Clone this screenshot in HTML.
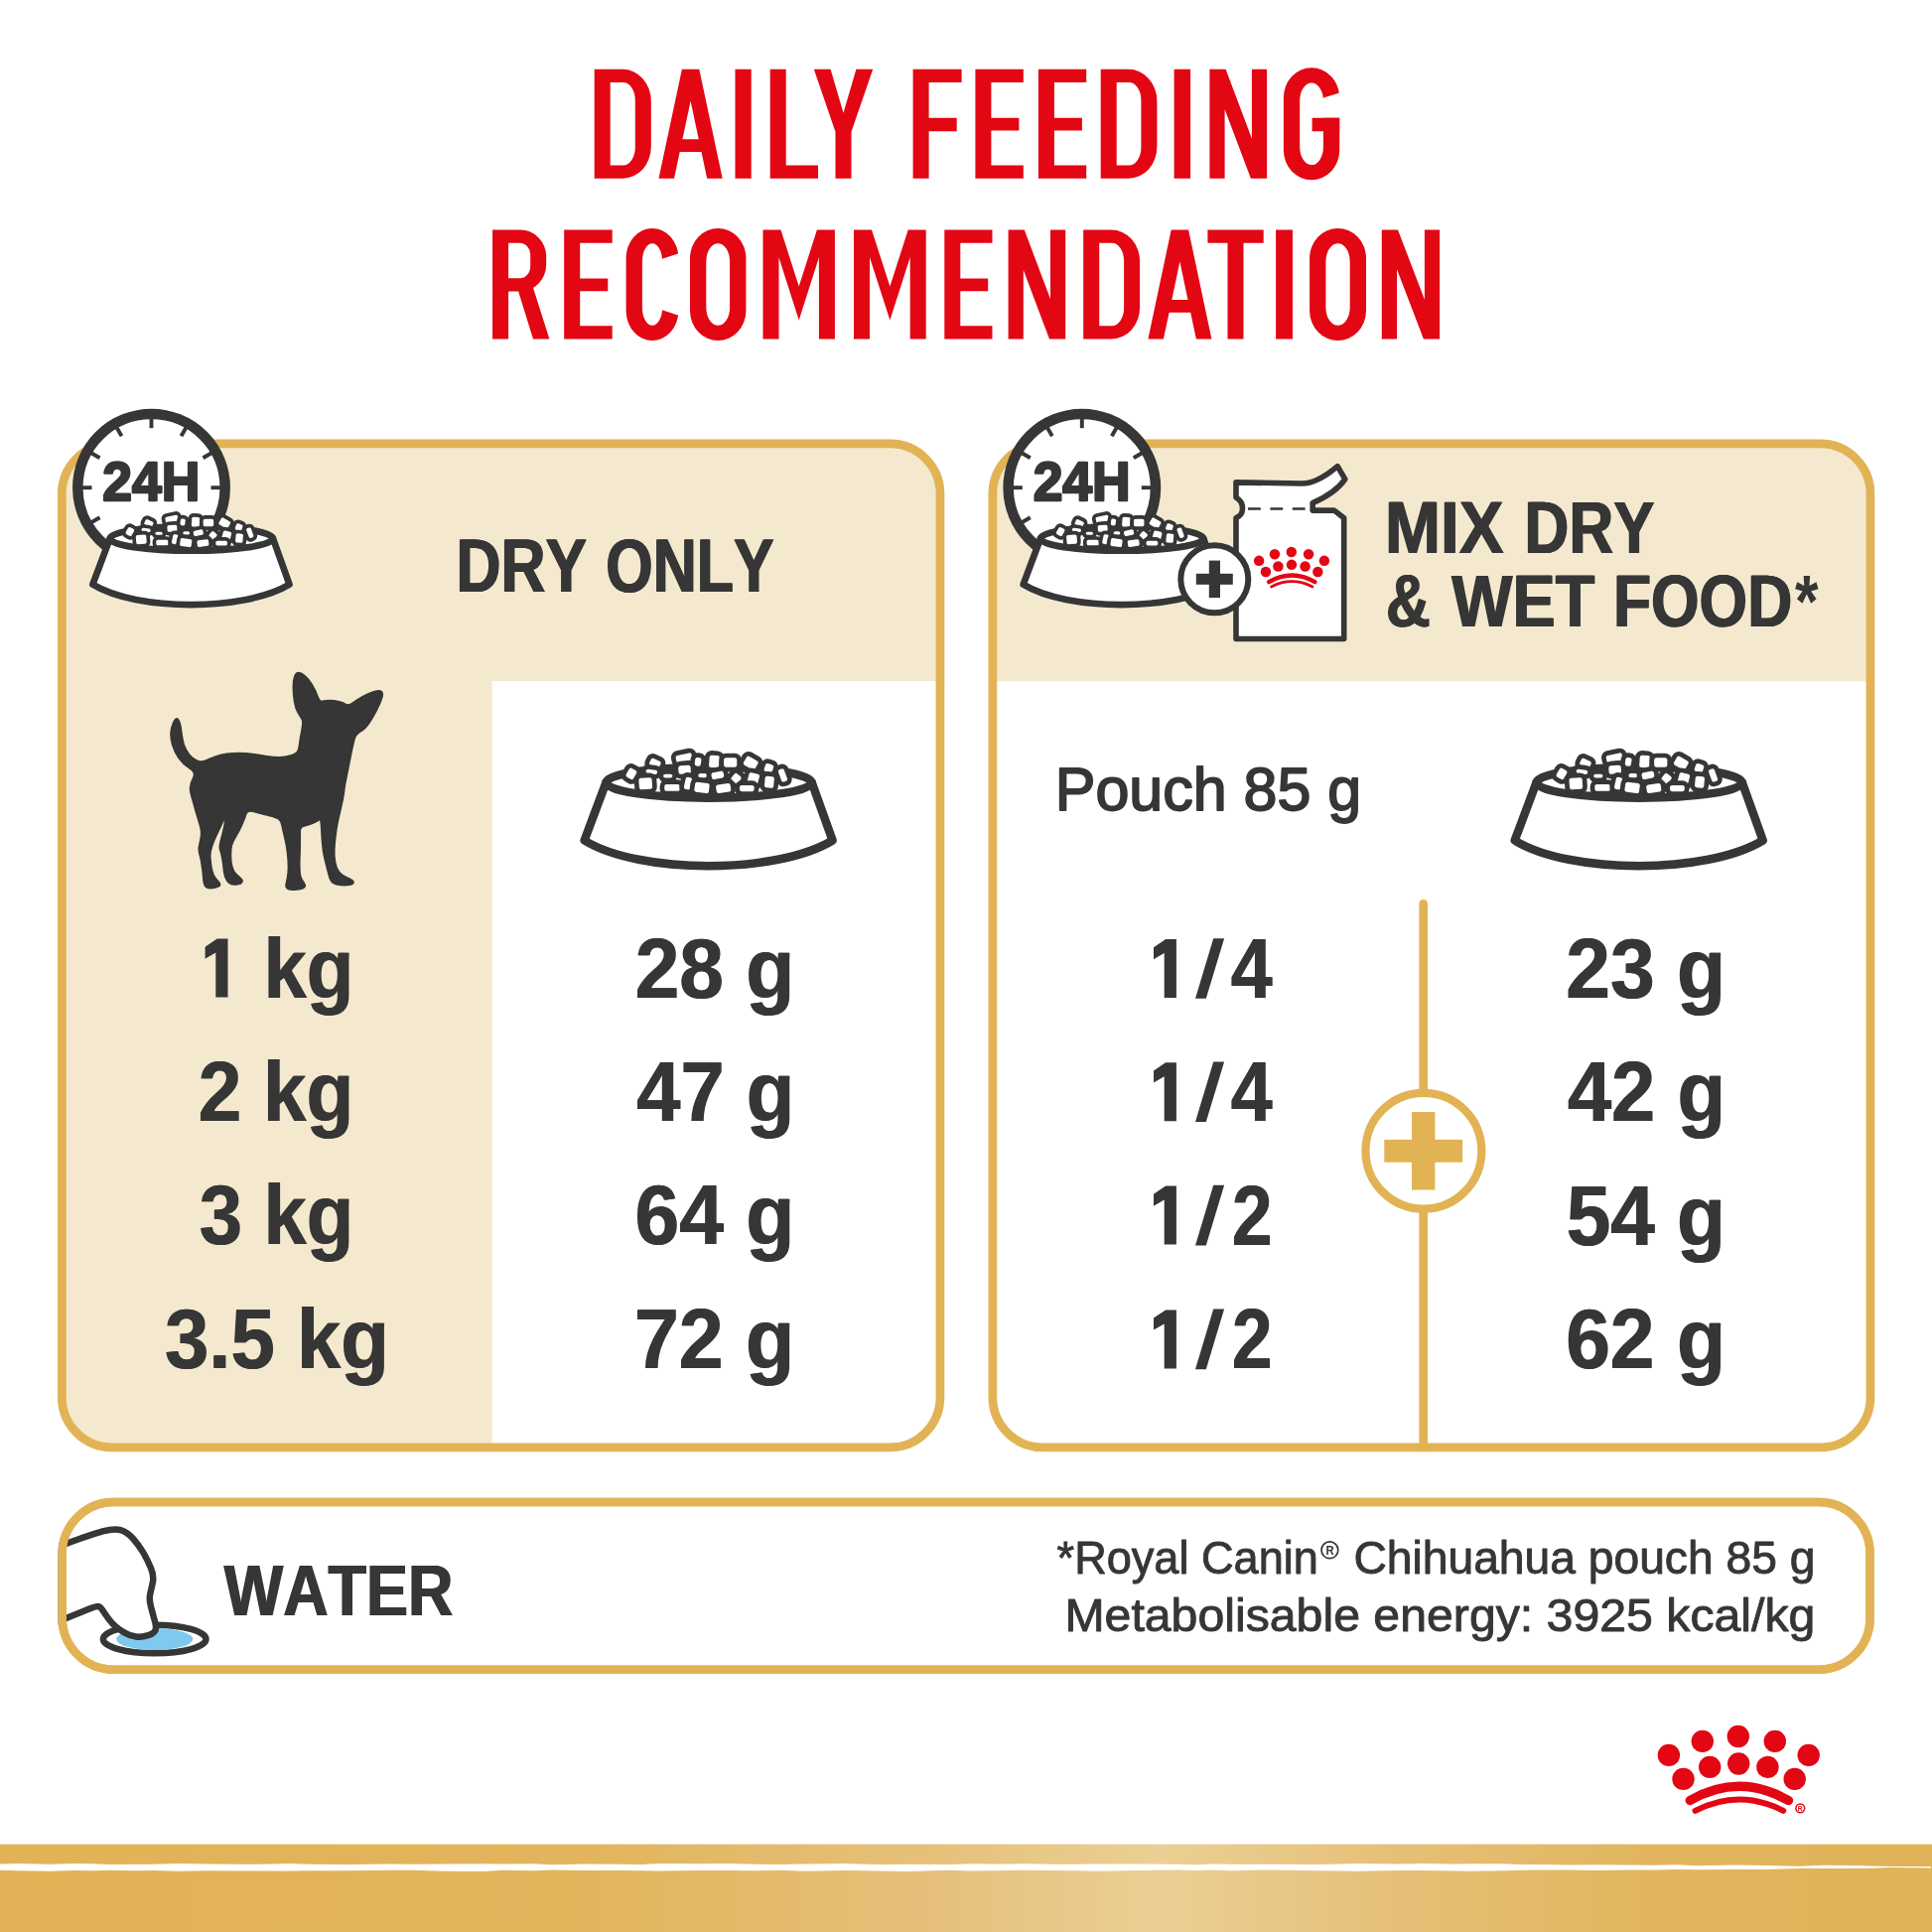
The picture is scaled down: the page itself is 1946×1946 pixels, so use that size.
<!DOCTYPE html>
<html><head><meta charset="utf-8"><title>Daily feeding recommendation</title>
<style>
html,body{margin:0;padding:0;background:#fff}
body{width:1946px;height:1946px;overflow:hidden}
svg{display:block;will-change:transform}
text{font-family:"Liberation Sans",sans-serif;font-kerning:none;font-variant-ligatures:none;white-space:pre}
</style></head><body>
<svg width="1946" height="1946" viewBox="0 0 1946 1946">
<defs><g id="bowl"><path d="M26.1 33.4 L4.3 91.7 C60 126 198 126 254.3 91.7 L233.4 33.4 Z" fill="#fff" stroke="#353635" stroke-width="8.5" stroke-linejoin="round"/><ellipse cx="129.7" cy="33.4" rx="103.6" ry="15.5" fill="#fff" stroke="#353635" stroke-width="8.5"/><g fill="#fff" stroke="#353635" stroke-width="4.7" stroke-linejoin="round"><rect x="-7.8" y="-6.2" width="15.5" height="12.4" rx="4.5" transform="translate(75.6 14.0) rotate(25)"/><rect x="-10.5" y="-6.2" width="21.0" height="12.4" rx="4.5" transform="translate(104.7 8.6) rotate(-12)"/><rect x="-5.4" y="-6.6" width="10.9" height="13.2" rx="4.5" transform="translate(118.7 12.5) rotate(8)"/><rect x="-7.4" y="-8.5" width="14.8" height="17.1" rx="4.5" transform="translate(135.1 12.2) rotate(4)"/><rect x="-8.9" y="-7.0" width="17.9" height="14.0" rx="4.5" transform="translate(151.3 13.2) rotate(0)"/><rect x="-8.9" y="-7.4" width="17.9" height="14.8" rx="4.5" transform="translate(171.9 13.7) rotate(30)"/><rect x="-6.6" y="-6.6" width="13.2" height="13.2" rx="4.5" transform="translate(190.1 19.0) rotate(20)"/><rect x="-5.4" y="-8.9" width="10.9" height="17.9" rx="4.5" transform="translate(204.1 26.1) rotate(-20)"/><rect x="-6.6" y="-7.4" width="13.2" height="14.8" rx="4.5" transform="translate(51.6 24.6) rotate(30)"/><rect x="-8.5" y="-6.6" width="17.1" height="13.2" rx="4.5" transform="translate(105.2 20.5) rotate(-4)"/><rect x="-8.2" y="-4.5" width="16.3" height="9.0" rx="4.5" transform="translate(72.1 22.6) rotate(8)"/><rect x="-7.0" y="-4.3" width="14.0" height="8.5" rx="4.5" transform="translate(88.4 26.8) rotate(0)"/><rect x="-6.6" y="-4.5" width="13.2" height="9.0" rx="4.5" transform="translate(123.3 26.4) rotate(0)"/><rect x="-8.5" y="-5.8" width="17.1" height="11.6" rx="4.5" transform="translate(138.5 26.1) rotate(-12)"/><rect x="-6.6" y="-6.6" width="13.2" height="13.2" rx="4.5" transform="translate(157.2 29.2) rotate(40)"/><rect x="-7.8" y="-7.8" width="15.5" height="15.5" rx="4.5" transform="translate(174.6 29.5) rotate(15)"/><rect x="-7.0" y="-8.2" width="14.0" height="16.3" rx="4.5" transform="translate(190.6 33.0) rotate(5)"/><rect x="-8.9" y="-8.2" width="17.9" height="16.3" rx="4.5" transform="translate(65.9 34.5) rotate(-4)"/><rect x="-10.1" y="-5.8" width="20.2" height="11.6" rx="4.5" transform="translate(92.7 38.6) rotate(0)"/><rect x="-5.6" y="-8.5" width="11.2" height="17.1" rx="4.5" transform="translate(108.7 34.2) rotate(12)"/><rect x="-9.7" y="-7.4" width="19.4" height="14.8" rx="4.5" transform="translate(122.7 38.6) rotate(8)"/><rect x="-9.7" y="-6.6" width="19.4" height="13.2" rx="4.5" transform="translate(144.4 39.2) rotate(-8)"/><rect x="-9.7" y="-5.4" width="19.4" height="10.9" rx="4.5" transform="translate(168.0 39.2) rotate(0)"/></g></g>
<g id="crown" fill="#e30613"><circle cx="-70.4" cy="18.9" r="11.2"/><circle cx="-36.5" cy="4.9" r="11.2"/><circle cx="-0.5" cy="0.0" r="11.2"/><circle cx="36.5" cy="4.9" r="11.2"/><circle cx="70.4" cy="18.9" r="11.2"/><circle cx="-55.8" cy="42.9" r="11.2"/><circle cx="-29.1" cy="30.9" r="11.2"/><circle cx="-0.1" cy="27.5" r="11.2"/><circle cx="29.1" cy="30.9" r="11.2"/><circle cx="56.4" cy="42.9" r="11.2"/><path d="M-49.0 64.5 Q0.5 36.1 50.1 64.5" fill="none" stroke="#e30613" stroke-width="9.5" stroke-linecap="round"/><path d="M-43.8 74.9 Q0.5 52.1 44.9 74.9" fill="none" stroke="#e30613" stroke-width="6" stroke-linecap="round"/></g>
<g id="clockbowl"><circle cx="94.5" cy="48.599999999999966" r="74.2" fill="#fff" stroke="#353635" stroke-width="10.5"/><line x1="94.5" y1="-21.4" x2="94.5" y2="-11.4" stroke="#353635" stroke-width="3.9"/><line x1="129.5" y1="-12.0" x2="124.5" y2="-3.4" stroke="#353635" stroke-width="3.9"/><line x1="155.1" y1="13.6" x2="146.5" y2="18.6" stroke="#353635" stroke-width="3.9"/><line x1="164.5" y1="48.6" x2="154.5" y2="48.6" stroke="#353635" stroke-width="3.9"/><line x1="33.9" y1="83.6" x2="42.5" y2="78.6" stroke="#353635" stroke-width="3.9"/><line x1="24.5" y1="48.6" x2="34.5" y2="48.6" stroke="#353635" stroke-width="3.9"/><line x1="33.9" y1="13.6" x2="42.5" y2="18.6" stroke="#353635" stroke-width="3.9"/><line x1="59.5" y1="-12.0" x2="64.5" y2="-3.4" stroke="#353635" stroke-width="3.9"/><text transform="translate(45.33 61.85) scale(0.9505 1)" font-size="56.25" font-weight="bold" fill="#353635" stroke="#353635" stroke-width="2.50" stroke-linejoin="round">24H</text><use href="#bowl" transform="translate(32 73.39999999999998) scale(0.7924)"/></g>
<linearGradient id="band" x1="0" x2="1" y1="0" y2="0">
<stop offset="0" stop-color="#e2b256"/><stop offset="0.3" stop-color="#e2b55c"/><stop offset="0.48" stop-color="#e6c07a"/>
<stop offset="0.6" stop-color="#ebcf94"/><stop offset="0.72" stop-color="#e6c078"/><stop offset="0.85" stop-color="#e1b65e"/><stop offset="1" stop-color="#dfb357"/></linearGradient>
<clipPath id="clipL"><rect x="58" y="442.6" width="893.3" height="1019.7" rx="55"/></clipPath>
<clipPath id="clipR"><rect x="995.5" y="442.6" width="892.8" height="1019.7" rx="55"/></clipPath>
<clipPath id="clipW"><rect x="58.5" y="1508.8" width="1829.3" height="177.2" rx="56"/></clipPath></defs>
<g id="title">
<g transform="translate(598.7 69.8)"><path d="M0.0 0.0H28.5A28.6 32.0 0 0 1 57.1 32.0V78.0A28.6 32.0 0 0 1 28.5 110.0H0.0zM16.0 13.3V96.7H28.9A12.2 18.0 0 0 0 41.1 78.7V31.3A12.2 18.0 0 0 0 28.9 13.3z" fill="#e30613"/></g>
<g transform="translate(663.5 69.8)"><path d="M23.4 0.0L40.8 0.0L64.2 110.0L0.0 110.0zM32.1 32.0L23.9 70.4L40.3 70.4zM21.2 83.2L15.5 110.0L48.7 110.0L43.0 83.2z" fill="#e30613" fill-rule="evenodd"/></g>
<g transform="translate(740.5 69.8)"><path d="M0.0 0.0h16.2v110.0h-16.2z" fill="#e30613"/></g>
<g transform="translate(775.7 69.8)"><path d="M0.0 0.0h16.0v110.0h-16.0zM0.0 96.7h48.3v13.3h-48.3z" fill="#e30613"/></g>
<g transform="translate(819.8 69.8)"><path d="M0.0 0.0L16.8 0.0L29.7 44.0L42.6 0.0L59.4 0.0L37.7 63.0L37.7 110.0L21.7 110.0L21.7 63.0z" fill="#e30613"/></g>
<g transform="translate(919.6 69.8)"><path d="M0.0 0.0h16.0v110.0h-16.0zM0.0 0.0h49.0v13.3h-49.0zM0.0 48.9h44.1v13.5h-44.1z" fill="#e30613"/></g>
<g transform="translate(982.4 69.8)"><path d="M0.0 0.0h16.0v110.0h-16.0zM0.0 0.0h48.4v13.3h-48.4zM0.0 48.9h44.0v12.9h-44.0zM0.0 96.7h48.4v13.3h-48.4z" fill="#e30613"/></g>
<g transform="translate(1045.9 69.8)"><path d="M0.0 0.0h16.0v110.0h-16.0zM0.0 0.0h48.3v13.3h-48.3zM0.0 48.9h44.0v12.9h-44.0zM0.0 96.7h48.3v13.3h-48.3z" fill="#e30613"/></g>
<g transform="translate(1108.7 69.8)"><path d="M0.0 0.0H28.1A28.6 32.0 0 0 1 56.7 32.0V78.0A28.6 32.0 0 0 1 28.1 110.0H0.0zM16.0 13.3V96.7H28.5A12.2 18.0 0 0 0 40.7 78.7V31.3A12.2 18.0 0 0 0 28.5 13.3z" fill="#e30613"/></g>
<g transform="translate(1182.6 69.8)"><path d="M0.0 0.0h16.5v110.0h-16.5z" fill="#e30613"/></g>
<g transform="translate(1218.4 69.8)"><path d="M0.0 0.0h15.2v110.0h-15.2zM42.5 0.0h15.2v110.0h-15.2zM0.0 0.0L16.2 0.0L57.7 110.0L41.5 110.0z" fill="#e30613"/></g>
<g transform="translate(1292.9 69.8)"><path d="M28.1 -1.5H28.1A28.1 30.0 0 0 1 56.3 28.5V81.5A28.1 30.0 0 0 1 28.1 111.5H28.1A28.1 30.0 0 0 1 0.0 81.5V28.5A28.1 30.0 0 0 1 28.1 -1.5zM28.1 13.7A11.8 18.0 0 0 0 16.3 31.7V78.3A11.8 18.0 0 0 0 28.1 96.3H28.1A11.8 18.0 0 0 0 40.0 78.3V31.7A11.8 18.0 0 0 0 28.1 13.7z" fill="#e30613"/><path d="M28.1 32.5L57.3 23.5L57.3 48.9L28.1 48.9z" fill="#fff"/><path d="M28.7 48.9h27.6v13.6h-27.6z" fill="#e30613"/></g>
<g transform="translate(496.1 231.5)"><path d="M0.0 0.0h16.0v110.0h-16.0zM0.0 0.0H28.1A26.0 27.0 0 0 1 54.1 27.0V35.0A26.0 27.0 0 0 1 28.1 62.0H0.0zM16.0 13.3V48.7H27.6A10.5 12.0 0 0 0 38.1 36.7V25.3A10.5 12.0 0 0 0 27.6 13.3zM24.8 58.0L40.8 58.0L57.3 110.0L40.9 110.0z" fill="#e30613"/></g>
<g transform="translate(568.2 231.5)"><path d="M0.0 0.0h16.0v110.0h-16.0zM0.0 0.0h48.5v13.3h-48.5zM0.0 48.9h44.1v12.9h-44.1zM0.0 96.7h48.5v13.3h-48.5z" fill="#e30613"/></g>
<g transform="translate(630.6 231.5)"><path d="M26.4 -1.5H26.4A26.4 30.0 0 0 1 52.8 28.5V81.5A26.4 30.0 0 0 1 26.4 111.5H26.4A26.4 30.0 0 0 1 0.0 81.5V28.5A26.4 30.0 0 0 1 26.4 -1.5zM26.4 13.7A10.1 18.0 0 0 0 16.3 31.7V78.3A10.1 18.0 0 0 0 26.4 96.3H26.4A10.1 18.0 0 0 0 36.5 78.3V31.7A10.1 18.0 0 0 0 26.4 13.7z" fill="#e30613"/><path d="M26.4 32.5L53.8 23.5L53.8 86.5L26.4 77.5z" fill="#fff"/></g>
<g transform="translate(695.0 231.5)"><path d="M28.2 -1.5H28.2A28.2 30.0 0 0 1 56.4 28.5V81.5A28.2 30.0 0 0 1 28.2 111.5H28.2A28.2 30.0 0 0 1 0.0 81.5V28.5A28.2 30.0 0 0 1 28.2 -1.5zM28.2 13.7A11.9 18.0 0 0 0 16.3 31.7V78.3A11.9 18.0 0 0 0 28.2 96.3H28.2A11.9 18.0 0 0 0 40.1 78.3V31.7A11.9 18.0 0 0 0 28.2 13.7z" fill="#e30613"/></g>
<g transform="translate(768.5 231.5)"><path d="M0.0 0.0h16.0v110.0h-16.0zM56.4 0.0h16.0v110.0h-16.0zM0.0 0.0L18.0 0.0L36.2 57.0L36.2 91.0L16.0 27.7L16.0 0.0zM72.4 0.0L56.4 0.0L56.4 27.7L36.2 91.0L36.2 57.0L54.4 0.0z" fill="#e30613"/></g>
<g transform="translate(860.0 231.5)"><path d="M0.0 0.0h16.0v110.0h-16.0zM56.7 0.0h16.0v110.0h-16.0zM0.0 0.0L18.0 0.0L36.4 57.0L36.4 91.0L16.0 27.8L16.0 0.0zM72.7 0.0L56.7 0.0L56.7 27.8L36.4 91.0L36.4 57.0L54.7 0.0z" fill="#e30613"/></g>
<g transform="translate(951.3 231.5)"><path d="M0.0 0.0h16.0v110.0h-16.0zM0.0 0.0h48.2v13.3h-48.2zM0.0 48.9h43.9v12.9h-43.9zM0.0 96.7h48.2v13.3h-48.2z" fill="#e30613"/></g>
<g transform="translate(1015.6 231.5)"><path d="M0.0 0.0h15.2v110.0h-15.2zM42.4 0.0h15.2v110.0h-15.2zM0.0 0.0L16.2 0.0L57.6 110.0L41.4 110.0z" fill="#e30613"/></g>
<g transform="translate(1091.2 231.5)"><path d="M0.0 0.0H28.3A28.6 32.0 0 0 1 56.9 32.0V78.0A28.6 32.0 0 0 1 28.3 110.0H0.0zM16.0 13.3V96.7H28.7A12.2 18.0 0 0 0 40.9 78.7V31.3A12.2 18.0 0 0 0 28.7 13.3z" fill="#e30613"/></g>
<g transform="translate(1156.4 231.5)"><path d="M23.3 0.0L40.7 0.0L64.0 110.0L0.0 110.0zM32.0 32.1L23.9 70.4L40.1 70.4zM21.2 83.2L15.5 110.0L48.5 110.0L42.8 83.2z" fill="#e30613" fill-rule="evenodd"/></g>
<g transform="translate(1216.4 231.5)"><path d="M0.0 0.0h56.3v13.3h-56.3zM20.1 0.0h16.0v110.0h-16.0z" fill="#e30613"/></g>
<g transform="translate(1285.1 231.5)"><path d="M0.0 0.0h16.9v110.0h-16.9z" fill="#e30613"/></g>
<g transform="translate(1319.1 231.5)"><path d="M28.5 -1.5H28.5A28.5 30.0 0 0 1 56.9 28.5V81.5A28.5 30.0 0 0 1 28.5 111.5H28.5A28.5 30.0 0 0 1 0.0 81.5V28.5A28.5 30.0 0 0 1 28.5 -1.5zM28.5 13.7A12.2 18.0 0 0 0 16.3 31.7V78.3A12.2 18.0 0 0 0 28.5 96.3H28.5A12.2 18.0 0 0 0 40.6 78.3V31.7A12.2 18.0 0 0 0 28.5 13.7z" fill="#e30613"/></g>
<g transform="translate(1391.8 231.5)"><path d="M0.0 0.0h15.2v110.0h-15.2zM43.1 0.0h15.2v110.0h-15.2zM0.0 0.0L16.2 0.0L58.3 110.0L42.1 110.0z" fill="#e30613"/></g>
</g>
<g clip-path="url(#clipL)"><rect x="58" y="442.6" width="893.3" height="1019.7" fill="#f4e9ce"/><rect x="495.7" y="686" width="460" height="780" fill="#fff"/></g>
<rect x="62.35" y="446.95" width="884.6" height="1011" rx="50.6" fill="none" stroke="#e2b354" stroke-width="8.7"/>
<use href="#clockbowl" transform="translate(58 442.6)"/>
<text transform="translate(458.83 595.50) scale(0.8251 1)" font-size="75.58" font-weight="bold" fill="#353635">DRY</text>
<text transform="translate(459.58 595.50) scale(0.8251 1)" font-size="75.58" font-weight="bold" fill="#353635">DRY</text>
<text transform="translate(460.33 595.50) scale(0.8251 1)" font-size="75.58" font-weight="bold" fill="#353635">DRY</text>
<text transform="translate(609.60 595.50) scale(0.8068 1)" font-size="75.58" font-weight="bold" fill="#353635">ONLY</text>
<text transform="translate(610.35 595.50) scale(0.8068 1)" font-size="75.58" font-weight="bold" fill="#353635">ONLY</text>
<text transform="translate(611.10 595.50) scale(0.8068 1)" font-size="75.58" font-weight="bold" fill="#353635">ONLY</text>
<path d="M179.3 724.6 Q177.3 722.2 174.8 727.4 Q172.4 732.7 172.0 738.3 Q171.7 743.9 173.8 750.8 Q175.9 757.8 180.4 764.1 Q184.9 770.4 191.2 774.2 Q197.5 778.1 194.7 783.3 Q191.9 788.6 191.6 792.8 Q191.2 797.0 193.0 802.5 Q194.7 808.1 195.8 812.3 Q196.8 816.5 198.6 822.1 Q200.3 827.7 201.7 832.6 Q203.1 837.5 202.4 842.4 Q201.7 847.3 200.7 851.5 Q199.6 855.7 201.0 860.5 Q202.4 865.4 203.1 870.3 Q203.8 875.2 204.2 878.7 Q204.5 882.2 204.9 886.4 Q205.2 890.6 206.6 892.7 Q208.0 894.8 211.1 894.8 Q214.3 894.8 217.8 893.7 Q221.3 892.7 221.6 891.3 Q222.0 889.9 219.5 887.4 Q217.1 885.0 215.3 881.5 Q213.6 878.0 212.9 873.1 Q212.2 868.2 211.8 863.3 Q211.5 858.4 213.6 852.2 Q215.7 845.9 219.2 838.9 Q222.7 831.9 224.4 827.7 Q226.2 823.5 226.5 825.6 Q226.9 827.7 225.5 834.0 Q224.1 840.3 222.3 846.6 Q220.6 852.9 221.6 855.7 Q222.7 858.4 223.7 864.0 Q224.8 869.6 225.1 874.5 Q225.5 879.4 226.9 883.6 Q228.3 887.8 231.1 889.5 Q233.9 891.3 238.0 890.9 Q242.2 890.6 243.6 888.8 Q245.0 887.1 242.9 885.0 Q240.8 882.9 238.0 880.5 Q235.2 878.0 233.9 873.1 Q232.5 868.2 232.5 861.9 Q232.5 855.7 233.2 852.2 Q233.9 848.7 237.3 843.1 Q240.8 837.5 243.6 831.2 Q246.4 824.9 247.8 820.4 Q249.2 815.8 255.5 817.6 Q261.8 819.3 268.8 821.1 Q275.8 822.8 279.3 824.2 Q282.8 825.6 283.8 830.8 Q284.9 836.1 286.6 843.1 Q288.4 850.1 289.4 858.4 Q290.4 866.8 290.4 873.1 Q290.4 879.4 289.4 884.3 Q288.4 889.2 288.0 891.3 Q287.7 893.4 289.4 894.8 Q291.1 896.2 296.7 896.2 Q302.3 896.2 305.1 894.8 Q307.9 893.4 307.2 891.3 Q306.5 889.2 304.4 886.4 Q302.3 883.6 302.0 876.6 Q301.6 869.6 302.0 862.6 Q302.3 855.7 302.3 848.7 Q302.3 841.7 302.3 837.1 Q302.3 832.6 306.5 831.9 Q310.7 831.2 314.9 829.4 Q319.1 827.7 321.2 826.0 Q323.3 824.2 323.6 832.9 Q324.0 841.7 324.7 850.1 Q325.4 858.4 326.8 864.0 Q328.2 869.6 329.6 875.2 Q331.0 880.8 332.0 884.3 Q333.1 887.8 335.5 889.5 Q338.0 891.3 343.2 891.6 Q348.4 892.0 352.3 891.3 Q356.1 890.6 356.1 888.8 Q356.1 887.1 352.3 885.3 Q348.4 883.6 345.0 881.5 Q341.5 879.4 339.4 874.5 Q337.3 869.6 336.9 862.6 Q336.6 855.7 337.3 848.7 Q338.0 841.7 339.0 834.7 Q340.1 827.7 341.8 820.7 Q343.6 813.7 345.0 806.7 Q346.3 799.8 346.7 796.3 Q347.0 792.8 348.4 785.8 Q349.8 778.8 351.2 771.8 Q352.6 764.8 354.0 757.8 Q355.4 750.8 356.8 745.2 Q358.2 739.7 363.1 736.9 Q368.0 734.1 372.2 727.8 Q376.4 721.5 379.9 714.5 Q383.4 707.5 384.8 702.6 Q386.2 697.7 384.1 696.3 Q382.0 694.9 376.4 696.7 Q370.8 698.4 365.2 701.6 Q359.6 704.7 355.4 707.9 Q351.2 711.0 348.4 709.3 Q345.7 707.5 340.8 706.5 Q335.9 705.4 331.7 705.6 Q327.5 705.8 324.7 706.3 Q321.9 706.8 319.8 700.9 Q317.7 694.9 314.2 689.3 Q310.7 683.8 306.9 680.6 Q303.0 677.5 300.6 677.5 Q298.1 677.5 296.7 681.3 Q295.3 685.2 295.3 692.1 Q295.3 699.1 296.4 706.1 Q297.4 713.1 299.9 717.3 Q302.3 721.5 303.7 723.6 Q305.1 725.7 304.8 729.2 Q304.4 732.7 303.4 738.3 Q302.3 743.9 301.6 749.4 Q300.9 755.0 299.5 757.1 Q298.1 759.2 292.5 761.0 Q287.0 762.7 281.4 762.7 Q275.8 762.7 268.8 761.7 Q261.8 760.6 254.8 759.6 Q247.8 758.5 240.8 758.5 Q233.9 758.5 228.3 759.2 Q222.7 759.9 217.8 761.7 Q212.9 763.4 208.7 765.5 Q204.5 767.6 201.0 766.9 Q197.5 766.2 194.0 763.4 Q190.5 760.6 187.7 755.7 Q184.9 750.8 183.9 744.5 Q182.8 738.3 182.1 732.7 Q181.4 727.1 179.3 724.6Z" fill="#353635" stroke="#353635" stroke-width="1.5" stroke-linejoin="round"/>
<use href="#bowl" transform="translate(584.3 754.8)"/>
<path d="M229.5 945.6 L229.5 1004.6 L217.3 1004.6 L217.3 959.6 L206.6 965.8 L206.6 953.8 L218.7 945.6 Z" fill="#353635"/>
<text transform="translate(264.96 1004.60) scale(0.9135 1)" font-size="85.32" font-weight="bold" fill="#353635">kg</text>
<text transform="translate(265.96 1004.60) scale(0.9135 1)" font-size="85.32" font-weight="bold" fill="#353635">kg</text>
<text transform="translate(199.29 1128.90) scale(0.9176 1)" font-size="85.32" font-weight="bold" fill="#353635">2 kg</text>
<text transform="translate(200.29 1128.90) scale(0.9176 1)" font-size="85.32" font-weight="bold" fill="#353635">2 kg</text>
<text transform="translate(200.21 1253.20) scale(0.9119 1)" font-size="85.32" font-weight="bold" fill="#353635">3 kg</text>
<text transform="translate(201.21 1253.20) scale(0.9119 1)" font-size="85.32" font-weight="bold" fill="#353635">3 kg</text>
<text transform="translate(165.47 1378.00) scale(0.9346 1)" font-size="85.32" font-weight="bold" fill="#353635">3.5 kg</text>
<text transform="translate(166.47 1378.00) scale(0.9346 1)" font-size="85.32" font-weight="bold" fill="#353635">3.5 kg</text>
<text transform="translate(639.22 1004.60) scale(0.9410 1)" font-size="85.32" font-weight="bold" fill="#353635">28 g</text>
<text transform="translate(640.22 1004.60) scale(0.9410 1)" font-size="85.32" font-weight="bold" fill="#353635">28 g</text>
<text transform="translate(640.80 1128.90) scale(0.9314 1)" font-size="85.32" font-weight="bold" fill="#353635">47 g</text>
<text transform="translate(641.80 1128.90) scale(0.9314 1)" font-size="85.32" font-weight="bold" fill="#353635">47 g</text>
<text transform="translate(639.06 1253.20) scale(0.9420 1)" font-size="85.32" font-weight="bold" fill="#353635">64 g</text>
<text transform="translate(640.06 1253.20) scale(0.9420 1)" font-size="85.32" font-weight="bold" fill="#353635">64 g</text>
<text transform="translate(638.53 1378.00) scale(0.9451 1)" font-size="85.32" font-weight="bold" fill="#353635">72 g</text>
<text transform="translate(639.53 1378.00) scale(0.9451 1)" font-size="85.32" font-weight="bold" fill="#353635">72 g</text>
<g clip-path="url(#clipR)"><rect x="995.5" y="442.6" width="892.8" height="1019.7" fill="#fff"/><rect x="995.5" y="442.6" width="892.8" height="243.6" fill="#f4e9ce"/></g>
<line x1="1433.7" y1="910.3" x2="1433.7" y2="1458" stroke="#e2b354" stroke-width="8.7" stroke-linecap="round"/>
<rect x="999.85" y="446.95" width="884.1" height="1011" rx="50.6" fill="none" stroke="#e2b354" stroke-width="8.7"/>
<circle cx="1433.9" cy="1159.2" r="58.4" fill="#fff" stroke="#e2b354" stroke-width="8.2"/>
<rect x="1394.3" y="1147.9" width="78.8" height="22.8" fill="#e2b354"/><rect x="1422" y="1120" width="23.4" height="78.5" fill="#e2b354"/>
<use href="#clockbowl" transform="translate(995.3 442.6)"/>
<path d="M1245 485.9 L1311.3 487 C1322 487 1335 480 1347.2 469.6 L1354.8 482.6 C1347 494 1335 501 1322.2 506.5 L1322.2 514.1 L1343.9 514.1 L1353.7 521.7 L1353.7 643.5 L1245 643.5 L1245 521.7 C1250 519 1251.5 517 1251.5 512 C1251.5 507 1250 504 1245 501.1 Z" fill="#fff" stroke="#353635" stroke-width="5.6" stroke-linejoin="round"/>
<line x1="1257" y1="512.5" x2="1316" y2="512.5" stroke="#353635" stroke-width="2.7" stroke-dasharray="12.8 9.6"/>
<use href="#crown" transform="translate(1301 556) scale(0.467)"/>
<circle cx="1223.3" cy="583.3" r="34" fill="#fff" stroke="#353635" stroke-width="6"/>
<rect x="1204.8" y="577.8" width="37" height="11" fill="#353635"/><rect x="1217.8" y="564.6" width="11.2" height="37.5" fill="#353635"/>
<text transform="translate(1394.30 557.00) scale(0.9120 1)" font-size="73.69" font-weight="bold" fill="#353635">MIX</text>
<text transform="translate(1395.05 557.00) scale(0.9120 1)" font-size="73.69" font-weight="bold" fill="#353635">MIX</text>
<text transform="translate(1395.80 557.00) scale(0.9120 1)" font-size="73.69" font-weight="bold" fill="#353635">MIX</text>
<text transform="translate(1534.85 557.00) scale(0.8416 1)" font-size="73.69" font-weight="bold" fill="#353635">DRY</text>
<text transform="translate(1535.60 557.00) scale(0.8416 1)" font-size="73.69" font-weight="bold" fill="#353635">DRY</text>
<text transform="translate(1536.35 557.00) scale(0.8416 1)" font-size="73.69" font-weight="bold" fill="#353635">DRY</text>
<text transform="translate(1395.18 631.40) scale(0.8411 1)" font-size="73.69" font-weight="bold" fill="#353635">&amp;</text>
<text transform="translate(1395.93 631.40) scale(0.8411 1)" font-size="73.69" font-weight="bold" fill="#353635">&amp;</text>
<text transform="translate(1396.68 631.40) scale(0.8411 1)" font-size="73.69" font-weight="bold" fill="#353635">&amp;</text>
<text transform="translate(1461.54 631.40) scale(0.8793 1)" font-size="73.69" font-weight="bold" fill="#353635">WET</text>
<text transform="translate(1462.29 631.40) scale(0.8793 1)" font-size="73.69" font-weight="bold" fill="#353635">WET</text>
<text transform="translate(1463.04 631.40) scale(0.8793 1)" font-size="73.69" font-weight="bold" fill="#353635">WET</text>
<text transform="translate(1624.22 631.40) scale(0.8470 1)" font-size="73.69" font-weight="bold" fill="#353635">FOOD</text>
<text transform="translate(1624.97 631.40) scale(0.8470 1)" font-size="73.69" font-weight="bold" fill="#353635">FOOD</text>
<text transform="translate(1625.72 631.40) scale(0.8470 1)" font-size="73.69" font-weight="bold" fill="#353635">FOOD</text>
<text transform="translate(1808.12 631.40) scale(0.8207 1)" font-size="73.69" font-weight="bold" fill="#353635">*</text>
<text transform="translate(1062.80 816.10) scale(1.0057 1)" font-size="60.61" font-weight="normal" fill="#353635" stroke="#353635" stroke-width="1.80" stroke-linejoin="round">Pouch 85 g</text>
<use href="#bowl" transform="translate(1521.4 754.8)"/>
<path d="M1184.9 946.0 L1184.9 1005.0 L1172.7 1005.0 L1172.7 960.0 L1162.0 966.2 L1162.0 954.2 L1174.1 946.0 Z" fill="#353635"/>
<path d="M1222.2 945.2 L1233.1 945.2 L1214.8 1005.8 L1204.0 1005.8 Z" fill="#353635"/>
<text transform="translate(1239.36 1005.00) scale(0.8818 1)" font-size="85.32" font-weight="bold" fill="#353635">4</text>
<text transform="translate(1240.36 1005.00) scale(0.8818 1)" font-size="85.32" font-weight="bold" fill="#353635">4</text>
<path d="M1184.9 1070.2 L1184.9 1129.2 L1172.7 1129.2 L1172.7 1084.2 L1162.0 1090.4 L1162.0 1078.4 L1174.1 1070.2 Z" fill="#353635"/>
<path d="M1222.2 1069.4 L1233.1 1069.4 L1214.8 1130.0 L1204.0 1130.0 Z" fill="#353635"/>
<text transform="translate(1239.36 1129.20) scale(0.8818 1)" font-size="85.32" font-weight="bold" fill="#353635">4</text>
<text transform="translate(1240.36 1129.20) scale(0.8818 1)" font-size="85.32" font-weight="bold" fill="#353635">4</text>
<path d="M1184.9 1194.6 L1184.9 1253.6 L1172.7 1253.6 L1172.7 1208.6 L1162.0 1214.8 L1162.0 1202.8 L1174.1 1194.6 Z" fill="#353635"/>
<path d="M1222.2 1193.8 L1233.1 1193.8 L1214.8 1254.4 L1204.0 1254.4 Z" fill="#353635"/>
<text transform="translate(1240.48 1253.60) scale(0.8520 1)" font-size="85.32" font-weight="bold" fill="#353635">2</text>
<text transform="translate(1241.48 1253.60) scale(0.8520 1)" font-size="85.32" font-weight="bold" fill="#353635">2</text>
<path d="M1184.9 1319.4 L1184.9 1378.4 L1172.7 1378.4 L1172.7 1333.4 L1162.0 1339.6 L1162.0 1327.6 L1174.1 1319.4 Z" fill="#353635"/>
<path d="M1222.2 1318.6 L1233.1 1318.6 L1214.8 1379.2 L1204.0 1379.2 Z" fill="#353635"/>
<text transform="translate(1240.48 1378.40) scale(0.8520 1)" font-size="85.32" font-weight="bold" fill="#353635">2</text>
<text transform="translate(1241.48 1378.40) scale(0.8520 1)" font-size="85.32" font-weight="bold" fill="#353635">2</text>
<text transform="translate(1576.81 1005.00) scale(0.9416 1)" font-size="85.32" font-weight="bold" fill="#353635">23 g</text>
<text transform="translate(1577.81 1005.00) scale(0.9416 1)" font-size="85.32" font-weight="bold" fill="#353635">23 g</text>
<text transform="translate(1578.40 1129.20) scale(0.9320 1)" font-size="85.32" font-weight="bold" fill="#353635">42 g</text>
<text transform="translate(1579.40 1129.20) scale(0.9320 1)" font-size="85.32" font-weight="bold" fill="#353635">42 g</text>
<text transform="translate(1577.13 1253.60) scale(0.9397 1)" font-size="85.32" font-weight="bold" fill="#353635">54 g</text>
<text transform="translate(1578.13 1253.60) scale(0.9397 1)" font-size="85.32" font-weight="bold" fill="#353635">54 g</text>
<text transform="translate(1576.65 1378.40) scale(0.9426 1)" font-size="85.32" font-weight="bold" fill="#353635">62 g</text>
<text transform="translate(1577.65 1378.40) scale(0.9426 1)" font-size="85.32" font-weight="bold" fill="#353635">62 g</text>
<rect x="62.75" y="1513.05" width="1820.8" height="168.7" rx="51.7" fill="#fff" stroke="#e2b354" stroke-width="8.5"/>
<g clip-path="url(#clipW)">
<ellipse cx="155.7" cy="1651.0" rx="51.8" ry="14.3" fill="#fff" stroke="#353635" stroke-width="6.5"/>
<ellipse cx="155.7" cy="1651.0" rx="38.6" ry="11" fill="#7fc9ee"/>
<path d="M55.5 1558.6 L67.2 1554.7 Q91.8 1545.6 103.4 1542.4 Q115.1 1539.2 121.5 1541.1 Q128.0 1543.0 133.8 1549.5 Q139.6 1556.0 144.2 1563.7 Q148.7 1571.5 151.9 1579.3 Q155.2 1587.0 153.9 1593.5 Q152.6 1600.0 151.3 1605.2 Q150.0 1610.3 151.9 1618.1 Q153.9 1625.9 155.8 1632.3 Q157.8 1638.8 156.5 1642.0 Q155.2 1645.3 149.3 1647.2 Q143.5 1649.2 137.0 1648.5 Q130.6 1647.9 125.4 1644.6 Q120.2 1641.4 116.3 1638.2 Q112.5 1634.9 109.2 1630.4 Q106.0 1625.9 103.4 1622.0 Q100.8 1618.1 98.2 1618.1 Q95.6 1618.1 81.4 1623.9 L67.2 1629.7 L55.5 1634.9 Z" fill="#fff" stroke="#353635" stroke-width="6.5" stroke-linejoin="round"/>
</g>
<rect x="62.75" y="1513.05" width="1820.8" height="168.7" rx="51.7" fill="none" stroke="#e2b354" stroke-width="8.5"/>
<text transform="translate(224.94 1627.20) scale(0.8665 1)" font-size="72.68" font-weight="bold" fill="#353635">WATER</text>
<text transform="translate(225.69 1627.20) scale(0.8665 1)" font-size="72.68" font-weight="bold" fill="#353635">WATER</text>
<text transform="translate(226.44 1627.20) scale(0.8665 1)" font-size="72.68" font-weight="bold" fill="#353635">WATER</text>
<text transform="translate(1064.61 1584.55) scale(0.9729 1)" font-size="46.37" font-weight="normal" fill="#353635" stroke="#353635" stroke-width="0.90" stroke-linejoin="round">*Royal Canin</text>
<circle cx="1339.4" cy="1561.3" r="8.4" fill="none" stroke="#353635" stroke-width="1.7"/>
<text transform="translate(1335.44 1565.90) scale(0.8482 1)" font-size="13.37" font-weight="bold" fill="#353635">R</text>
<text transform="translate(1363.40 1584.55) scale(0.9968 1)" font-size="46.37" font-weight="normal" fill="#353635" stroke="#353635" stroke-width="0.90" stroke-linejoin="round">Chihuahua pouch 85 g</text>
<text transform="translate(1072.41 1643.45) scale(1.0404 1)" font-size="46.37" font-weight="normal" fill="#353635" stroke="#353635" stroke-width="0.90" stroke-linejoin="round">Metabolisable energy: 3925 kcal/kg</text>
<use href="#crown" transform="translate(1751.3 1749)"/>
<circle cx="1813.3" cy="1821.3" r="4.4" fill="none" stroke="#e30613" stroke-width="1.5"/>
<text transform="translate(1810.86 1823.80) scale(0.9104 1)" font-size="7.27" font-weight="bold" fill="#e30613">R</text>
<rect x="0" y="1857.6" width="1946" height="90" fill="url(#band)"/>
<path d="M0 1877.4 L18 1877.1 L50 1877.7 L75 1877.0 L93 1877.3 L111 1878.0 L136 1877.8 L154 1877.7 L179 1877.1 L211 1877.5 L243 1877.7 L261 1877.7 L293 1877.1 L311 1877.7 L351 1877.9 L391 1877.4 L416 1877.8 L448 1877.6 L488 1877.3 L506 1877.6 L538 1877.2 L556 1878.2 L588 1877.4 L628 1877.7 L646 1878.1 L664 1877.1 L704 1877.3 L736 1877.0 L761 1877.7 L786 1877.9 L811 1877.5 L851 1877.1 L883 1878.1 L915 1877.8 L955 1878.1 L980 1877.2 L998 1877.6 L1030 1877.3 L1062 1877.7 L1087 1877.8 L1105 1877.5 L1145 1877.5 L1185 1877.8 L1203 1878.2 L1221 1877.4 L1239 1877.7 L1271 1877.7 L1296 1877.7 L1328 1878.1 L1368 1877.1 L1408 1877.6 L1433 1877.1 L1465 1877.6 L1483 1877.2 L1515 1877.2 L1533 1878.1 L1551 1878.1 L1583 1878.5 L1608 1878.2 L1640 1878.4 L1665 1878.8 L1690 1878.2 L1708 1879.2 L1748 1878.5 L1780 1878.9 L1812 1879.7 L1837 1878.8 L1869 1879.1 L1887 1879.5 L1905 1880.0 L1945 1880.1 L1945 1881.6 L1905 1881.0 L1887 1881.8 L1869 1881.9 L1837 1881.9 L1812 1882.0 L1780 1883.0 L1748 1882.9 L1708 1883.3 L1690 1883.0 L1665 1883.6 L1640 1883.5 L1608 1883.9 L1583 1883.5 L1551 1883.5 L1533 1883.7 L1515 1884.2 L1483 1884.8 L1465 1884.5 L1433 1884.0 L1408 1883.9 L1368 1884.7 L1328 1884.3 L1296 1883.7 L1271 1883.6 L1239 1884.3 L1221 1883.6 L1203 1884.1 L1185 1883.6 L1145 1884.1 L1105 1884.7 L1087 1884.2 L1062 1883.9 L1030 1883.7 L998 1884.3 L980 1884.4 L955 1883.7 L915 1884.9 L883 1884.6 L851 1884.1 L811 1884.8 L786 1883.7 L761 1884.2 L736 1884.1 L704 1884.0 L664 1884.5 L646 1884.2 L628 1884.1 L588 1884.0 L556 1883.6 L538 1884.2 L506 1883.7 L488 1884.9 L448 1884.7 L416 1883.8 L391 1883.8 L351 1884.2 L311 1884.2 L293 1884.5 L261 1884.4 L243 1884.5 L211 1884.3 L179 1884.7 L154 1884.1 L136 1884.3 L111 1883.7 L93 1884.3 L75 1884.1 L50 1884.8 L18 1884.3 L0 1883.7 Z" fill="#fff"/>
</svg>
</body></html>
